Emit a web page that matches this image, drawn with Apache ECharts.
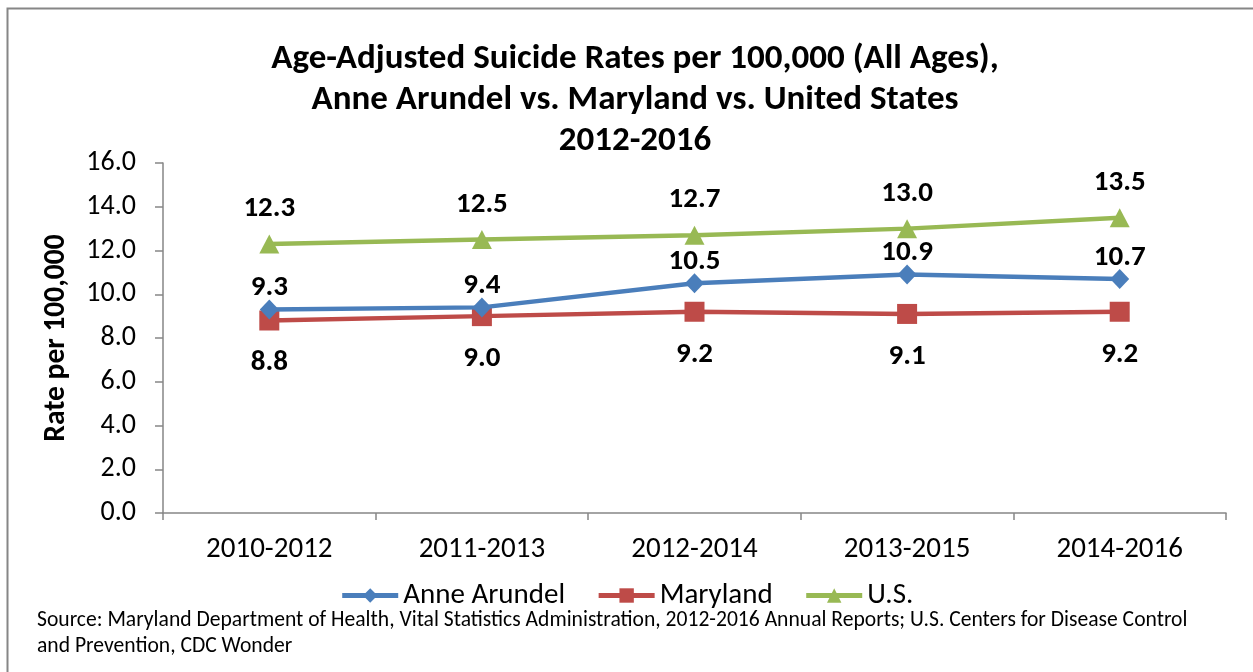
<!DOCTYPE html>
<html>
<head>
<meta charset="utf-8">
<script src="https://cdn.jsdelivr.net/npm/echarts@6/dist/echarts.min.js"></script>
<style>
html,body{margin:0;padding:0;background:#fff;}
#chart{width:1253px;height:672px;}
</style>
</head>
<body>
<div id="chart"></div>
<script>
const categories = ['2010-2012','2011-2013','2012-2014','2013-2015','2014-2016'];
const anneArundel = [9.3, 9.4, 10.5, 10.9, 10.7];
const maryland = [8.8, 9.0, 9.2, 9.1, 9.2];
const us = [12.3, 12.5, 12.7, 13.0, 13.5];
const titleLines = ['Age-Adjusted Suicide Rates per 100,000 (All Ages),','Anne Arundel vs. Maryland vs. United States','2012-2016'];
const sourceLines = ['Source: Maryland Department of Health, Vital Statistics Administration, 2012-2016 Annual Reports; U.S. Centers for Disease Control','and Prevention, CDC Wonder'];

const FONT = "Carlito, 'Liberation Sans', sans-serif";
const chart = echarts.init(document.getElementById('chart'));
const labelStyle = {show:true, color:'#000', fontWeight:'bold', fontSize:29, fontFamily:FONT, formatter: p => p.value.toFixed(1)};
chart.setOption({
  backgroundColor:'#fff',
  animation:false,
  title:{
    text: titleLines.join('\n'),
    left: 630, top: 34, textAlign:'center',
    textStyle:{fontSize:35, fontWeight:'bold', fontFamily:FONT, color:'#000', lineHeight:41}
  },
  grid:{left:163, right:27, top:163, bottom:159, containLabel:false},
  legend:{
    left:'center', top:576, itemGap:31, itemWidth:56, itemHeight:18,
    lineStyle:{width:5},
    textStyle:{fontSize:29, fontFamily:FONT, color:'#000'},
    data:['Anne Arundel','Maryland','U.S.']
  },
  xAxis:{
    type:'category', data:categories, boundaryGap:true,
    axisLine:{lineStyle:{color:'#868686', width:1.5}},
    axisTick:{show:true, length:7, lineStyle:{color:'#868686', width:1.5}},
    axisLabel:{fontSize:29, fontFamily:FONT, color:'#000', margin:22}
  },
  yAxis:{
    type:'value', min:0, max:16, interval:2,
    name:'Rate per 100,000', nameLocation:'middle', nameGap:91,
    nameTextStyle:{fontSize:29.5, fontWeight:'bold', fontFamily:FONT, color:'#000'},
    axisLine:{show:true, lineStyle:{color:'#868686', width:1.5}},
    axisTick:{show:true, inside:false, length:8, lineStyle:{color:'#868686', width:1.5}},
    splitLine:{show:false},
    axisLabel:{fontSize:28, fontFamily:FONT, color:'#000', margin:27, formatter: v => v.toFixed(1)}
  },
  series:[
    {name:'Anne Arundel', type:'line', data:anneArundel, symbol:'diamond', symbolSize:[19,20],
     itemStyle:{color:'#4a7ebb'}, lineStyle:{color:'#4a7ebb', width:4.5},
     label:Object.assign({}, labelStyle, {position:'top', distance:0, offset:[0,3]}), z:3},
    {name:'Maryland', type:'line', data:maryland, symbol:'rect', symbolSize:20,
     itemStyle:{color:'#be4b48'}, lineStyle:{color:'#be4b48', width:4.5},
     label:Object.assign({}, labelStyle, {position:'bottom', distance:18}), z:2},
    {name:'U.S.', type:'line', data:us, symbol:'triangle', symbolSize:[20,19],
     itemStyle:{color:'#98b954'}, lineStyle:{color:'#98b954', width:4.5},
     label:Object.assign({}, labelStyle, {position:'top', distance:11}), z:4}
  ],
  graphic:[
    {type:'rect', shape:{x:7.5, y:8.5, width:1300, height:700}, style:{fill:null, stroke:'#868686', lineWidth:2}, silent:true},
    {type:'text', left:37, top:610, style:{text:sourceLines[0], font:"21.6px "+FONT, fill:'#000'}},
    {type:'text', left:37, top:636, style:{text:sourceLines[1], font:"21.6px "+FONT, fill:'#000'}}
  ]
});
</script>
</body>
</html>
